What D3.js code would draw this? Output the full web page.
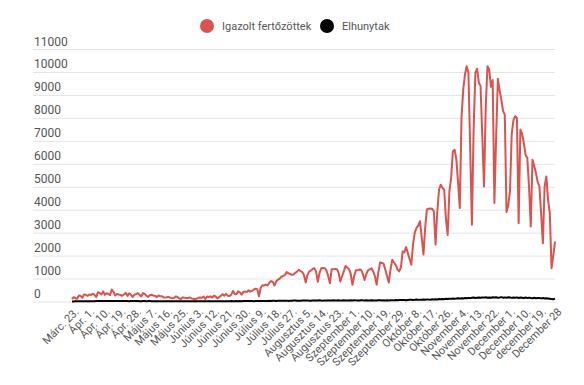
<!DOCTYPE html>
<html>
<head>
<meta charset="utf-8">
<script src="https://cdn.jsdelivr.net/npm/d3@7"></script>
<style>
  body { margin: 0; background: #fff; }
  .viz text { font-family: Roboto, "Open Sans", sans-serif; }
</style>
</head>
<body>
<div class="viz"></div>
<script>
// series names
const seriesNames = ["Igazolt fertőzöttek", "Elhunytak"];
const seriesColors = ["#d9534f", "#000000"];

// x axis labels, one every 9 days (a day is missing at the end of September)
const tickLabels = [
    "Márc. 23.", "Ápr. 1.", "Ápr. 10.", "Ápr. 19.", "Ápr. 28.", "Május 7.", "Május 16.",
    "Május 25.", "Június 3.", "Június 12.", "Június 21.", "Június 30.", "Július 9.",
    "Július 18.", "Július 27.", "Augusztus 5.", "Augusztus 14.", "Augusztus 23.",
    "Szeptember 1.", "Szeptember 10.", "Szeptember 19.", "Szeptember 29.", "Október 8.",
    "Október 17.", "Október 26.", "November 4.", "November 13.", "November 22.",
    "December 1.", "December 10.", "december 19.", "December 28"
];
const tickStep = 9;

const yTicks = [0, 1000, 2000, 3000, 4000, 5000, 6000, 7000, 8000, 9000, 10000, 11000];

// daily confirmed cases
const confirmed = [
    100, 186, 144, 123, 263, 246, 160, 308, 293, 247,
    303, 286, 333, 294, 193, 405, 363, 306, 442, 290,
    361, 319, 280, 523, 411, 262, 328, 301, 283, 250,
    306, 376, 246, 354, 302, 197, 285, 326, 366, 291,
    218, 368, 330, 247, 201, 279, 298, 249, 249, 190,
    262, 225, 233, 171, 170, 191, 191, 158, 146, 150,
    225, 190, 130, 111, 181, 162, 153, 149, 179, 135,
    117, 97, 120, 165, 170, 163, 215, 109, 214, 194,
    225, 167, 250, 217, 135, 191, 255, 320, 252, 330,
    251, 243, 301, 460, 325, 320, 440, 400, 300, 420,
    430, 410, 490, 430, 460, 520, 560, 540, 230, 600,
    710, 700, 740, 700, 820, 890, 850, 700, 880, 950,
    1000, 1080, 1110, 1160, 1280, 1230, 1200, 1160, 1180, 1250,
    1300, 1380, 1330, 1280, 1150, 830, 1150, 1300, 1350, 1420,
    1450, 1300, 860, 1250, 1450, 1460, 1450, 1350, 1100, 795,
    1410, 1400, 1420, 1410, 1250, 870, 1100, 1310, 1550, 1480,
    1410, 1200, 730, 1100, 1360, 1370, 1390, 1380, 1200, 940,
    1200, 1360, 1400, 1450, 1310, 1100, 730, 1300, 1700, 1680,
    1640, 1380, 1100, 830, 1400, 1820, 1700, 1600, 1400, 1310,
    1490, 2180, 2140, 2370, 2100, 1850, 1600, 2500, 3000, 3210,
    3300, 3500, 2800, 2050, 3200, 4010, 4040, 4050, 4040, 3930,
    2480, 3900, 4870, 5090, 4950, 4870, 3600, 2900, 4800, 5380,
    6540, 6610, 6200, 5200, 4070, 8000, 9240, 9900, 10250, 9960,
    6700, 3340, 7500, 9960, 10140, 9530, 9390, 7200, 5010, 8500,
    10250, 10100, 9350, 9650, 4290, 7200, 9700, 9200, 8800, 8300,
    8140, 3900, 4200, 4800, 7300, 7900, 8070, 8000, 3410, 7490,
    7300, 6900, 6400, 6250, 5000, 3270, 6180, 5900, 5600, 5200,
    5020, 3800, 2540, 5010, 5450, 4430, 3850, 1450, 2000, 2610
];

// daily deaths
const deaths = [
    4, 5, 7, 6, 8, 9, 9, 12, 11, 13,
    16, 14, 11, 12, 17, 18, 22, 17, 19, 22,
    25, 19, 21, 24, 26, 19, 23, 20, 21, 26,
    19, 25, 22, 14, 21, 17, 19, 24, 22, 15,
    13, 21, 18, 16, 17, 20, 15, 13, 12, 15,
    14, 16, 11, 12, 9, 10, 13, 12, 14, 10,
    8, 11, 9, 10, 7, 11, 12, 8, 9, 10,
    8, 7, 11, 9, 12, 8, 10, 13, 9, 11,
    10, 14, 12, 8, 11, 13, 12, 15, 14, 16,
    12, 14, 18, 15, 13, 17, 16, 19, 15, 20,
    18, 21, 17, 22, 20, 16, 24, 21, 26, 23,
    25, 19, 22, 27, 29, 24, 31, 28, 26, 30,
    33, 29, 35, 31, 38, 27, 34, 36, 40, 42,
    37, 33, 31, 39, 44, 41, 46, 38, 36, 43,
    47, 40, 45, 52, 42, 38, 49, 46, 44, 39,
    41, 50, 47, 43, 52, 38, 45, 53, 48, 44,
    40, 51, 47, 55, 49, 46, 42, 58, 50, 45,
    53, 48, 44, 56, 41, 47, 39, 54, 50, 46,
    58, 44, 52, 48, 57, 53, 49, 61, 55, 64,
    70, 62, 68, 59, 66, 72, 78, 69, 75, 83,
    71, 80, 77, 88, 76, 92, 85, 81, 94, 87,
    98, 90, 105, 96, 111, 103, 118, 109, 124, 115,
    131, 120, 127, 138, 126, 145, 133, 152, 140, 158,
    147, 162, 171, 155, 166, 178, 160, 174, 169, 183,
    165, 176, 159, 187, 170, 181, 163, 175, 190, 168,
    179, 161, 184, 172, 158, 177, 166, 180, 155, 171,
    163, 149, 174, 157, 168, 152, 146, 161, 139, 155,
    148, 136, 152, 129, 141, 133, 118, 104, 97, 125
];

function drawChart() {
    const dimensions = {
        width: 584,
        height: 385,
        margin: { top: 49, right: 29, bottom: 83.5, left: 72 },
    };
    dimensions.boundedWidth = dimensions.width - dimensions.margin.left - dimensions.margin.right;
    dimensions.boundedHeight = dimensions.height - dimensions.margin.top - dimensions.margin.bottom;
    const gridLeft = -39; // gridlines run under the y labels

    const wrapper = d3.select(".viz")
        .append("svg")
        .attr("width", dimensions.width)
        .attr("height", dimensions.height);

    const bounds = wrapper.append("g")
        .attr("transform", `translate(${dimensions.margin.left},${dimensions.margin.top})`);

    const xScale = d3.scaleLinear()
        .domain([0, confirmed.length - 1])
        .range([0, dimensions.boundedWidth]);

    const yScale = d3.scaleLinear()
        .domain([0, 11000])
        .range([dimensions.boundedHeight, 0]);

    // y axis: gridlines + labels sitting on top of them
    const yAxis = bounds.append("g")
        .attr("transform", `translate(${gridLeft},0)`)
        .call(d3.axisRight(yScale)
            .tickValues(yTicks)
            .tickSize(dimensions.boundedWidth - gridLeft)
            .tickFormat(d => d));
    yAxis.select(".domain").remove();
    yAxis.selectAll(".tick line").attr("stroke", "#e4e4e4");
    yAxis.selectAll(".tick text")
        .attr("x", 1)
        .attr("dy", -4)
        .attr("text-anchor", "start")
        .attr("fill", "#555")
        .style("font-size", "12px");

    // x axis with slanted labels
    const xAxis = bounds.append("g")
        .attr("transform", `translate(0,${dimensions.boundedHeight})`)
        .call(d3.axisBottom(xScale)
            .tickValues(tickLabels.map((l, i) => i * tickStep))
            .tickSize(0)
            .tickFormat((d, i) => tickLabels[i]));
    xAxis.select(".domain").remove();
    xAxis.selectAll(".tick text")
        .attr("y", 0)
        .attr("dy", 0)
        .attr("text-anchor", "end")
        .attr("transform", "translate(7,11) rotate(-45)")
        .attr("fill", "#555")
        .style("font-size", "11px");

    const lineGenerator = d3.line()
        .x((d, i) => xScale(i))
        .y(d => yScale(d));

    [confirmed, deaths].forEach((series, k) => {
        bounds.append("path")
            .attr("d", lineGenerator(series))
            .attr("fill", "none")
            .attr("stroke", seriesColors[k])
            .attr("stroke-width", 2)
            .attr("stroke-linejoin", "round");
    });

    // legend
    const legendX = [207, 327];
    const legend = wrapper.append("g");
    seriesNames.forEach((name, k) => {
        legend.append("circle")
            .attr("cx", legendX[k])
            .attr("cy", 26)
            .attr("r", 7)
            .attr("fill", seriesColors[k]);
        legend.append("text")
            .attr("x", legendX[k] + 15)
            .attr("y", 30)
            .attr("fill", "#555")
            .style("font-size", "11px")
            .text(name);
    });
}

drawChart();
</script>
</body>
</html>
